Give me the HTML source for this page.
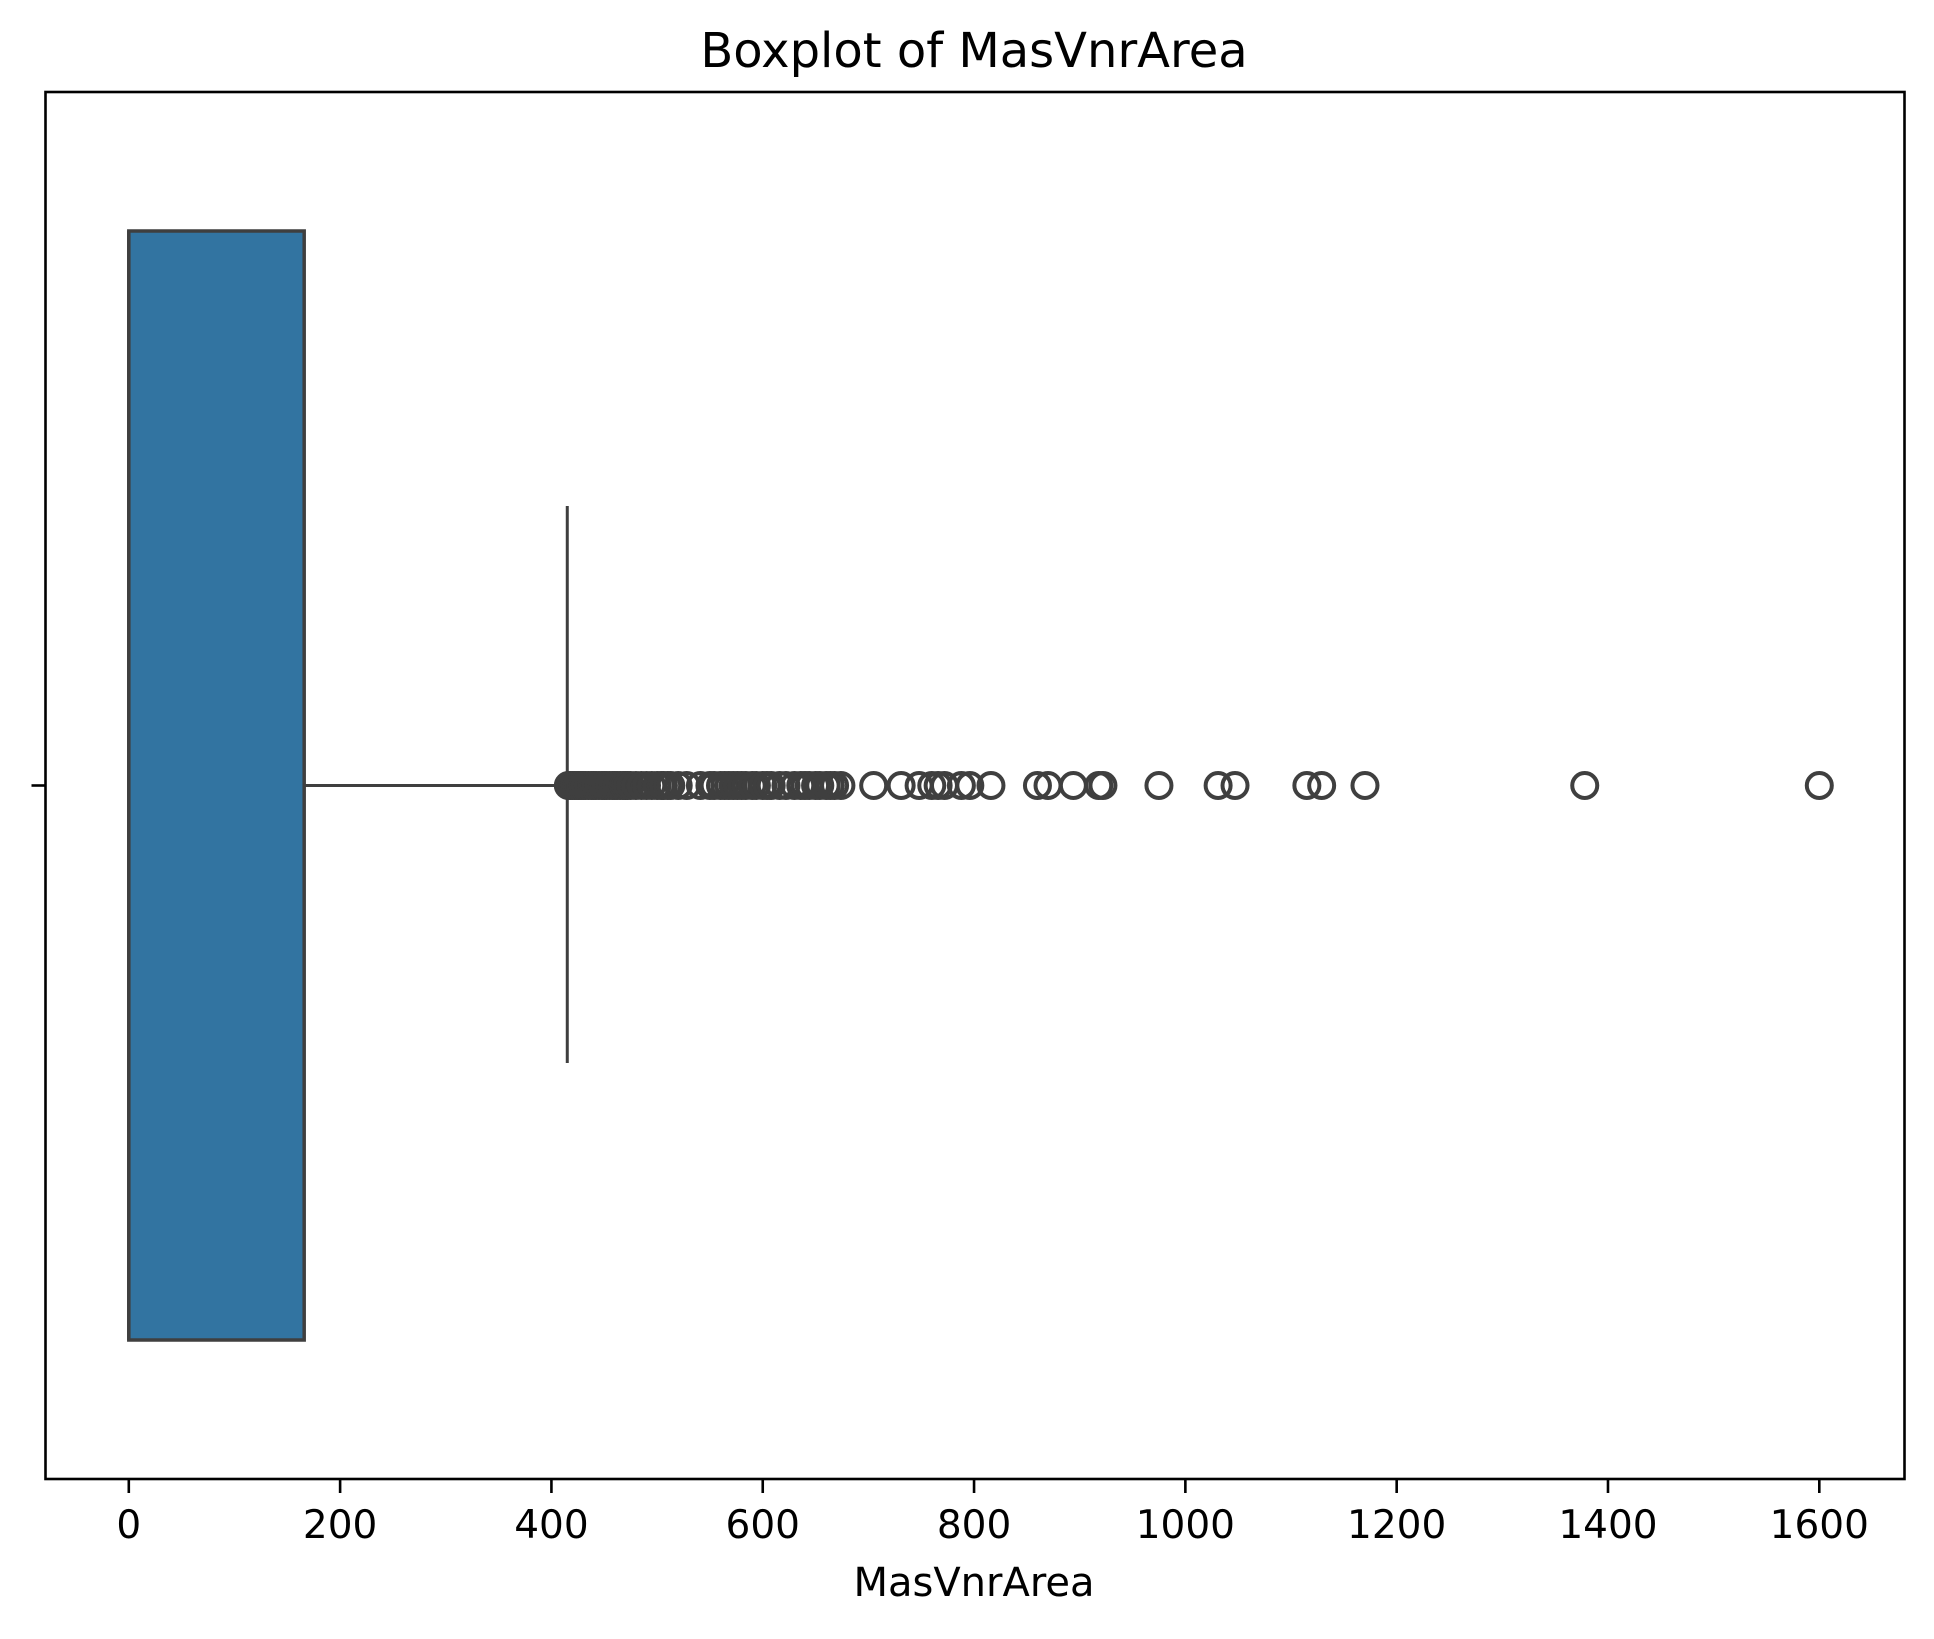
<!DOCTYPE html>
<html><head><meta charset="utf-8"><style>
body{margin:0;background:#fff}
svg text{font-family:"DejaVu Sans","Liberation Sans",sans-serif;fill:#000}
</style></head><body>
<svg id="chart" width="1934" height="1634" viewBox="0 0 1934 1634" xmlns="http://www.w3.org/2000/svg">
<rect width="1934" height="1634" fill="#fff"/>
<text x="974" y="67" font-size="48" text-anchor="middle">Boxplot of MasVnrArea</text>
<g id="plot"></g>
<rect x="45.5" y="92" width="1859" height="1387" fill="none" stroke="#000" stroke-width="2.6"/>
<text x="974" y="1596" font-size="40" text-anchor="middle">MasVnrArea</text>
</svg>
<script>
const xTicks=[0,200,400,600,800,1000,1200,1400,1600];
const q1=[0];const median=[0];const q3=[166];const whiskerLow=[0];const whiskerHigh=[415];
const outliers=[416,418,420,422,424,426,428,430,432,435,438,440,442,445,448,450,452,455,458,460,462,465,468,470,472,475,480,485,490,495,500,504,506,510,513,520,528,541,550,554,560,564,568,572,576,580,584,590,594,600,604,608,616,622,630,636,640,644,650,654,660,664,668,674,705,731,748,760,766,772,788,796,816,860,870,894,918,922,975,1031,1047,1115,1129,1170,1378,1600];
const L=45.5,R=1904.5,T=92,B=1479;
const x=v=>128.8+v*(1819.3-128.8)/1600;
const cy=785.5,boxTop=231,boxBot=1340,capTop=506,capBot=1063;
const g=document.getElementById('plot');const NS='http://www.w3.org/2000/svg';
function mk(t,a){const e=document.createElementNS(NS,t);for(const k in a)e.setAttribute(k,a[k]);g.appendChild(e);return e;}
xTicks.forEach(v=>{
 const t=mk('line',{x1:x(v),x2:x(v),y1:B,y2:B+14,stroke:'#000','stroke-width':2.6});
 
 
 const l=mk('text',{x:x(v),y:1538,'font-size':39,'text-anchor':'middle'});l.textContent=v;
 
 
});
const yt=mk('line',{x1:L-14,x2:L,y1:cy,y2:cy,stroke:'#000','stroke-width':2.6});


const wl=mk('line',{x1:x(q3[0]),x2:x(whiskerHigh[0]),y1:cy,y2:cy,stroke:'#3f3f3f','stroke-width':3});


const cap=mk('line',{x1:x(whiskerHigh[0]),x2:x(whiskerHigh[0]),y1:capTop,y2:capBot,stroke:'#3f3f3f','stroke-width':3});


const box=mk('rect',{x:x(q1[0]),y:boxTop,width:x(q3[0])-x(q1[0]),height:boxBot-boxTop,fill:'#3274a1',stroke:'#3f3f3f','stroke-width':3.5});


const med=mk('line',{x1:x(median[0]),x2:x(median[0]),y1:boxTop,y2:boxBot,stroke:'#3f3f3f','stroke-width':3.5});


outliers.forEach(v=>{
 const c=mk('circle',{cx:x(v),cy:cy,r:12.5,fill:'none',stroke:'#3f3f3f','stroke-width':4});
 
 
});
</script>
</body></html>
